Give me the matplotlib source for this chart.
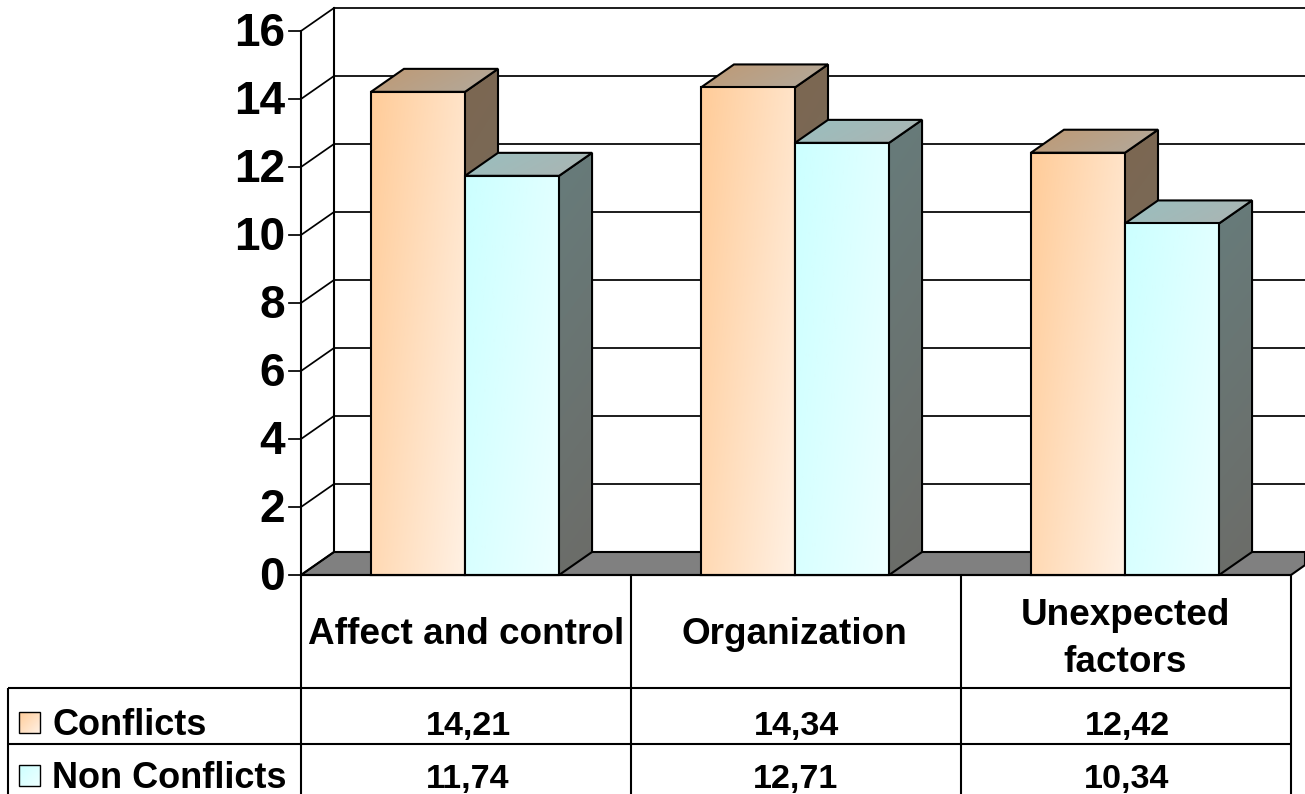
import numpy as np
import matplotlib
matplotlib.use("Agg")
import matplotlib.pyplot as plt
from matplotlib.patches import Polygon
from matplotlib.transforms import Affine2D

categories = ["Affect and control", "Organization", "Unexpected\nfactors"]
series_names = ["Conflicts", "Non Conflicts"]
conflicts = [14.21, 14.34, 12.42]
non_conflicts = [11.74, 12.71, 10.34]
y_ticks = [0, 2, 4, 6, 8, 10, 12, 14, 16]

W, H = 1305, 794
plt.rcParams["font.family"] = ["Liberation Sans", "DejaVu Sans"]

fig = plt.figure(figsize=(W / 100, H / 100), dpi=100)
ax = fig.add_axes([0, 0, 1, 1])
ax.axis("off")

# One category spans 330 px, one value unit spans 34 px.
X0, Y0, CAT_W, UNIT = 301, 575, 330, 34
ax.set_xlim(-X0 / CAT_W, (W - X0) / CAT_W)
ax.set_ylim(-(H - Y0) / UNIT, Y0 / UNIT)
xmax = ax.get_xlim()[1]
DX, DY = 33 / CAT_W, 23 / UNIT
BAR_W = 0.285
LW = 1.5
GRID_LW = 1.25

px = Affine2D().scale(1, -1).translate(0, H)  # table drawn in top-left pixel space


def shaded(poly, c0, c1, z, t=(1.0, 0.35), lw=LW):
    """Fill a polygon with a diagonal gradient running from c0 to c1."""
    pts = np.array(poly)
    xs = np.linspace(0, 1, 64)
    ys = np.linspace(0, 1, 64)
    gx, gy = np.meshgrid(xs, ys)
    f = (t[0] * gx + t[1] * (1 - gy)) / (t[0] + t[1])
    img = np.array(c0)[None, None, :] * (1 - f[..., None]) + np.array(c1)[None, None, :] * f[..., None]
    ext = (pts[:, 0].min(), pts[:, 0].max(), pts[:, 1].min(), pts[:, 1].max())
    im = ax.imshow(img / 255, extent=ext, origin="lower", aspect="auto",
                   interpolation="bilinear", zorder=z)
    clip = Polygon(poly, closed=True, transform=ax.transData)
    im.set_clip_path(clip)
    ax.add_patch(Polygon(poly, closed=True, fill=False, ec="black", lw=lw,
                         joinstyle="miter", zorder=z + 0.1))


def bar3d(x, w, v, pal, z):
    shaded([(x, 0), (x + w, 0), (x + w + DX, DY), (x + w + DX, v + DY), (x + w, v)],
           pal["side0"], pal["side1"], z, t=(0.4, 1.0))
    shaded([(x, v), (x + w, v), (x + w + DX, v + DY), (x + DX, v + DY)],
           pal["top0"], pal["top1"], z + 0.2)
    shaded([(x, 0), (x + w, 0), (x + w, v), (x, v)],
           pal["front0"], pal["front1"], z + 0.4, t=(1.0, 0.55))


orange = dict(front0=(255, 204, 153), front1=(255, 241, 228),
              top0=(191, 153, 115), top1=(178, 170, 158),
              side0=(128, 102, 76), side1=(112, 108, 100))
cyan = dict(front0=(204, 255, 255), front1=(238, 255, 255),
            top0=(153, 191, 191), top1=(172, 180, 178),
            side0=(102, 128, 128), side1=(108, 108, 104))

# Floor, back wall, side wall and gridlines
top = y_ticks[-1]
ax.fill([0, DX, xmax, xmax, 3, 0], [0, DY, DY, DY * 0.43, 0, 0],
        fc="#808080", ec="black", lw=LW, zorder=2, joinstyle="miter")
ax.plot([DX, DX], [DY, top + DY], color="black", lw=LW, zorder=1)
ax.plot([0, 0], [0, top], color="black", lw=LW, zorder=3)
for t in y_ticks:
    if t > 0:
        ax.plot([DX, xmax], [t + DY, t + DY], color="black", lw=GRID_LW, zorder=1)
    ax.plot([0, DX], [t, t + DY], color="black", lw=GRID_LW, zorder=3)
    ax.plot([-12 / CAT_W, 0], [t, t], color="black", lw=GRID_LW, zorder=3)
    ax.text(-16 / CAT_W, t + 2 / UNIT, str(t), ha="right", va="center_baseline",
            fontsize=33, fontweight="bold", color="black")

for i, (a, b) in enumerate(zip(conflicts, non_conflicts)):
    c = i + 0.5 - 1 / CAT_W
    bar3d(c - BAR_W, BAR_W, a, orange, 4 + i)
    bar3d(c, BAR_W, b, cyan, 4.6 + i)


# Data table beneath the plot
def rule(xs, ys, lw=LW):
    ax.plot(xs, ys, color="black", lw=lw, transform=px,
            zorder=9, clip_on=False, solid_capstyle="butt")


def label(x, y, s, ha="center", va="center", size=26):
    ax.text(x, y, s, transform=px, ha=ha, va=va, fontsize=size,
            fontweight="bold", color="black", linespacing=1.42, zorder=10)


edges = [301, 631, 961, 1291]
rule([301, 1291], [575, 575])
rule([8, 1291], [688, 688])
rule([8, 1291], [744, 744])
rule([8, 8], [688, 794])
for e in edges:
    rule([e, e], [575, 794])

centers = [466, 794, 1125]
baselines = [735, 788]
for cx, name in zip(centers, categories):
    label(cx, 639 if "\n" in name else 635, name, size=26.6)
for base, name, vals, pal in zip(baselines, series_names, (conflicts, non_conflicts), (orange, cyan)):
    label(52, base, name, ha="left", va="baseline")
    for cx, v in zip(centers, vals):
        label(cx + 2, base, f"{v:.2f}".replace(".", ","), va="baseline", size=24.6)
    x0 = (19 - X0) / CAT_W
    w = 21 / CAT_W
    y1 = (Y0 - (base - 23)) / UNIT
    y0 = y1 - 21 / UNIT
    shaded([(x0, y0), (x0 + w, y0), (x0 + w, y1), (x0, y1)],
           pal["front0"], pal["front1"], 11, t=(1.0, 1.0), lw=1.0)

ax.set_xlim(-X0 / CAT_W, xmax)
ax.set_ylim(-(H - Y0) / UNIT, Y0 / UNIT)
fig.savefig("out.png", dpi=100, facecolor="white")
